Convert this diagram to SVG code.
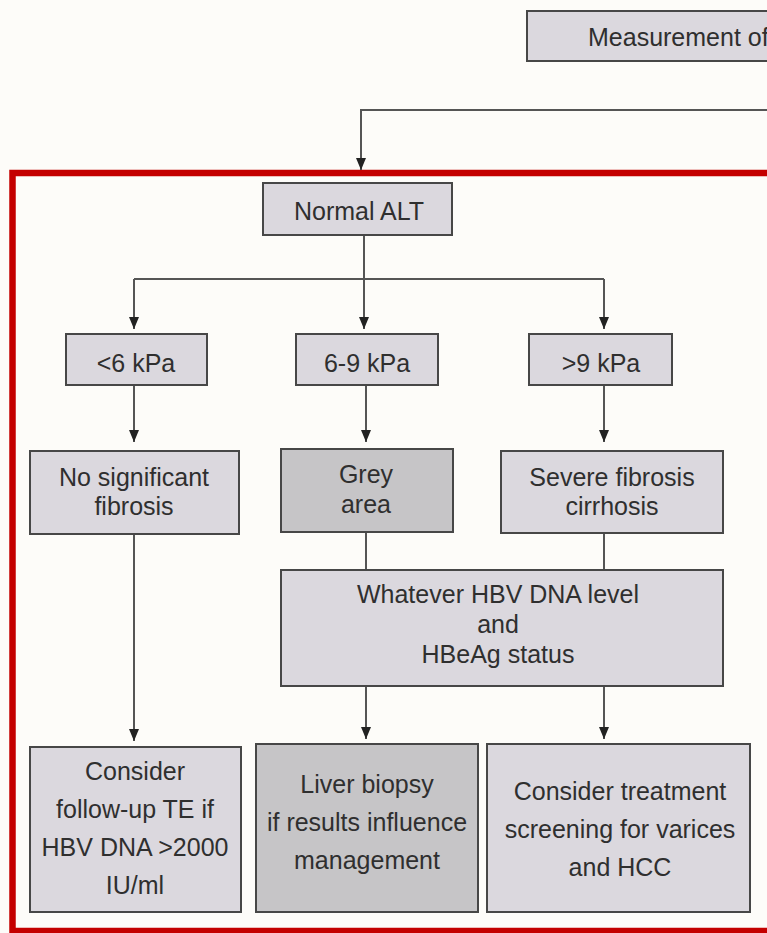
<svg xmlns="http://www.w3.org/2000/svg" width="767" height="933" viewBox="0 0 767 933">
<style>
.bg{fill:#fdfcf9}
.box{fill:#dbd8de;stroke:#474747;stroke-width:2}
.dark{fill:#c6c5c7}
.frame{fill:#fdfcf9;stroke:#c40000;stroke-width:6.5}
.ln{fill:none;stroke:#555;stroke-width:2}
.arr{marker-end:url(#ah)}
text{font-family:"Liberation Sans",Arial,sans-serif;font-size:25px;fill:#2f2f2f;text-anchor:middle}
</style>
<defs>
<marker id="ah" markerUnits="userSpaceOnUse" viewBox="0 0 12 10" refX="12" refY="5" markerWidth="12" markerHeight="10" orient="auto">
<path d="M0,0 L12,5 L0,10 z" fill="#222"/>
</marker>
</defs>
<rect class="bg" x="0" y="0" width="767" height="933"/>
<rect class="frame" x="12.5" y="173" width="800" height="758"/>
<g id="measurement">
<rect class="box" x="527" y="11" width="260" height="50"/>
<text x="588" y="46" style="text-anchor:start">Measurement of</text>
</g>
<g id="connectors">
<path class="ln arr" d="M767,110 H361 V170"/>
<path class="ln" d="M364,235 V279"/>
<path class="ln" d="M134,279 H604"/>
<path class="ln arr" d="M134,279 V329"/>
<path class="ln arr" d="M364,279 V329"/>
<path class="ln arr" d="M604,279 V329"/>
<path class="ln arr" d="M134,385 V442"/>
<path class="ln arr" d="M366,385 V442"/>
<path class="ln arr" d="M604,385 V442"/>
<path class="ln" d="M366,532 V570"/>
<path class="ln" d="M604,533 V570"/>
<path class="ln arr" d="M134,534 V741"/>
<path class="ln arr" d="M366,686 V739"/>
<path class="ln arr" d="M604,686 V739"/>
</g>
<g id="normal-alt">
<rect class="box" x="263" y="183" width="189" height="52"/>
<text x="359" y="220">Normal ALT</text>
</g>
<g id="lt6">
<rect class="box" x="66" y="334" width="141" height="51"/>
<text x="136" y="372">&lt;6 kPa</text>
</g>
<g id="k6-9">
<rect class="box" x="296" y="334" width="142" height="51"/>
<text x="367" y="372">6-9 kPa</text>
</g>
<g id="gt9">
<rect class="box" x="529" y="334" width="143" height="51"/>
<text x="601" y="372">&gt;9 kPa</text>
</g>
<g id="no-fibrosis">
<rect class="box" x="30" y="451" width="209" height="83"/>
<text x="134" y="486">No significant</text>
<text x="134" y="515">fibrosis</text>
</g>
<g id="grey-area">
<rect class="box dark" x="281" y="449" width="172" height="83"/>
<text x="366" y="483">Grey</text>
<text x="366" y="513">area</text>
</g>
<g id="severe">
<rect class="box" x="501" y="451" width="222" height="82"/>
<text x="612" y="486">Severe fibrosis</text>
<text x="612" y="515">cirrhosis</text>
</g>
<g id="whatever">
<rect class="box" x="281" y="570" width="442" height="116"/>
<text x="498" y="603">Whatever HBV DNA level</text>
<text x="498" y="633">and</text>
<text x="498" y="663">HBeAg status</text>
</g>
<g id="follow-up">
<rect class="box" x="30" y="747" width="211" height="165"/>
<text x="135" y="780">Consider</text>
<text x="135" y="818">follow-up TE if</text>
<text x="135" y="856">HBV DNA &gt;2000</text>
<text x="135" y="894">IU/ml</text>
</g>
<g id="biopsy">
<rect class="box dark" x="256" y="744" width="222" height="168"/>
<text x="367" y="793">Liver biopsy</text>
<text x="367" y="831">if results influence</text>
<text x="367" y="869">management</text>
</g>
<g id="treatment">
<rect class="box" x="487" y="744" width="263" height="168"/>
<text x="620" y="800">Consider treatment</text>
<text x="620" y="838">screening for varices</text>
<text x="620" y="876">and HCC</text>
</g>
</svg>
